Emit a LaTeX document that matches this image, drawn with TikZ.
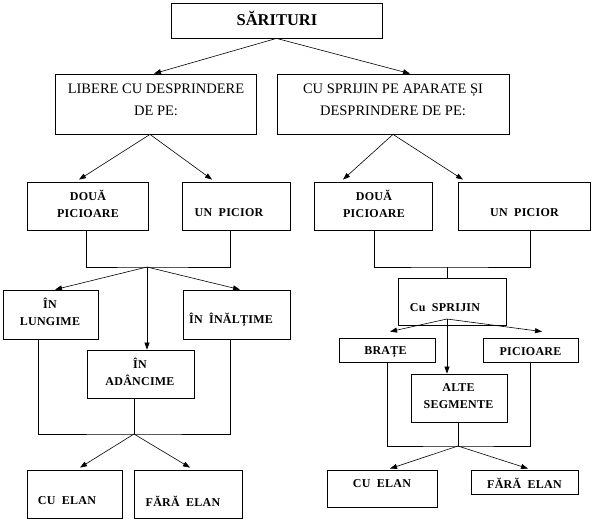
\documentclass[tikz,border=0pt]{standalone}
\usepackage{fontspec}
\setmainfont{Liberation Serif}
\newfontfamily\smfont[LetterSpace=2,WordSpace=2]{Liberation Serif}
\usetikzlibrary{arrows.meta}
\begin{document}
\begin{tikzpicture}[x=1pt,y=-1pt,
  box/.style={draw, line width=0.8pt, inner sep=0pt},
  big/.style={inner sep=0pt, font=\bfseries\fontsize{16.5}{19}\selectfont},
  mid/.style={inner sep=0pt, align=center, font=\fontsize{14.5}{22}\selectfont},
  sm/.style={inner sep=0pt, align=center, font=\smfont\bfseries\fontsize{12}{17}\selectfont},
  ln/.style={line width=0.8pt},
  arr/.style={line width=0.6pt, -{Triangle[length=7pt,width=5pt]}}
]
\useasboundingbox (0,0) rectangle (594,522);
% boxes
\node[box, minimum width=211pt, minimum height=35pt] (sar) at (276.5,20.5) {};
\node[box, minimum width=201pt, minimum height=60pt] (lib) at (155.5,104) {};
\node[box, minimum width=232pt, minimum height=60pt] (spr) at (393,104) {};
\node[box, minimum width=121pt, minimum height=48pt] (d2L) at (87.5,206) {};
\node[box, minimum width=108pt, minimum height=48pt] (up1L) at (236,206) {};
\node[box, minimum width=95pt, minimum height=49pt] (lunL) at (50.5,314.5) {};
\node[box, minimum width=107pt, minimum height=49pt] (inaL) at (236.5,314.5) {};
\node[box, minimum width=107pt, minimum height=48pt] (adaL) at (140.5,374) {};
\node[box, minimum width=95pt, minimum height=48pt] (ceL) at (74.5,494) {};
\node[box, minimum width=108pt, minimum height=48pt] (feL) at (188,494) {};
\node[box, minimum width=118pt, minimum height=48pt] (d2R) at (373,206) {};
\node[box, minimum width=132pt, minimum height=48pt] (up1R) at (524,206) {};
\node[box, minimum width=108pt, minimum height=47pt] (cs) at (452,301.5) {};
\node[box, minimum width=96pt, minimum height=24pt] (bra) at (387,350) {};
\node[box, minimum width=95pt, minimum height=24pt] (picR) at (530.5,350) {};
\node[box, minimum width=96pt, minimum height=48pt] (alte) at (459,398) {};
\node[box, minimum width=110pt, minimum height=37pt] (ceR) at (382,488.5) {};
\node[box, minimum width=107pt, minimum height=24pt] (feR) at (524.5,482) {};
% texts
\node[big] (sarT) at (277,18) {SĂRITURI};
\node[mid] (libT) at (156,100) {LIBERE CU DESPRINDERE\\DE PE:};
\node[mid] (sprT) at (393,100) {CU SPRIJIN PE APARATE ȘI\\DESPRINDERE DE PE:};
\node[sm] (d2LT) at (88,204) {DOUĂ\\PICIOARE};
\node[sm] (up1LT) at (229,213) {UN PICIOR};
\node[sm] (lunLT) at (50,311.5) {ÎN\\LUNGIME};
\node[sm] (inaLT) at (231,320) {ÎN ÎNĂLȚIME};
\node[sm] (adaLT) at (140,371.5) {ÎN\\ADÂNCIME};
\node[sm] (ceLT) at (67,501) {CU ELAN};
\node[sm] (feLT) at (183,501) {FĂRĂ ELAN};
\node[sm] (d2RT) at (374,204) {DOUĂ\\PICIOARE};
\node[sm] (up1RT) at (524.5,213) {UN PICIOR};
\node[sm] (csT) at (445,308) {Cu SPRIJIN};
\node[sm] (braT) at (385.5,352) {BRAȚE};
\node[sm] (picRT) at (530.5,352) {PICIOARE};
\node[sm] (alteT) at (458.5,396) {ALTE\\SEGMENTE};
\node[sm] (ceRT) at (382,484) {CU ELAN};
\node[sm] (feRT) at (524.5,483) {FĂRĂ ELAN};
% connectors top
\draw[arr] (sar.south) -- ([xshift=-1.5pt]lib.north);
\draw[arr] (sar.south) -- ([xshift=17pt]spr.north);
\draw[arr] ([xshift=-5.5pt]lib.south) -- ([xshift=-8.5pt,yshift=2pt]d2L.north);
\draw[arr] ([xshift=-5.5pt]lib.south) -- ([xshift=-24pt,yshift=2pt]up1L.north);
\draw[arr] (spr.south) -- ([xshift=-30pt,yshift=2pt]d2R.north);
\draw[arr] (spr.south) -- ([xshift=-61pt,yshift=2pt]up1R.north);
% left branch
\coordinate (jL1) at (147,267);
\draw[ln] ([xshift=-1.5pt]d2L.south) |- (jL1) -| ([xshift=-6pt]up1L.south);
\draw[arr] (jL1) -- ([xshift=4.5pt]lunL.north);
\draw[arr] (jL1) -- ([xshift=3.5pt]inaL.north);
\draw[arr] (jL1) -- (jL1 |- adaL.north);
\coordinate (jL2) at (134,434);
\draw[ln] ([xshift=-12.5pt]lunL.south) |- (jL2) -| ([xshift=-6.5pt]inaL.south);
\draw[ln] (jL2 |- adaL.south) -- (jL2);
\draw[arr] (jL2) -- ([xshift=5.5pt,yshift=2pt]ceL.north);
\draw[arr] (jL2) -- ([xshift=2pt,yshift=2pt]feL.north);
% right branch
\coordinate (jR1) at (447,267);
\draw[ln] ([xshift=1pt]d2R.south) |- (jR1) -| ([xshift=6pt]up1R.south);
\draw[ln] (jR1) -- (jR1 |- cs.north);
\coordinate (apex) at (447,319);
\draw[arr] (apex) -- ([xshift=3pt,yshift=6pt]bra.north);
\draw[arr] (apex) -- ([xshift=11.5pt,yshift=6pt]picR.north);
\draw[arr] (apex) -- (apex |- alte.north);
\coordinate (jR2) at (458,446);
\draw[ln] (bra.south) |- (jR2) -| (picR.south);
\draw[ln] (jR2 |- alte.south) -- (jR2);
\draw[arr] (jR2) -- ([xshift=8pt,yshift=1pt]ceR.north);
\draw[arr] (jR2) -- ([xshift=3.5pt,yshift=1pt]feR.north);
\end{tikzpicture}
\end{document}
